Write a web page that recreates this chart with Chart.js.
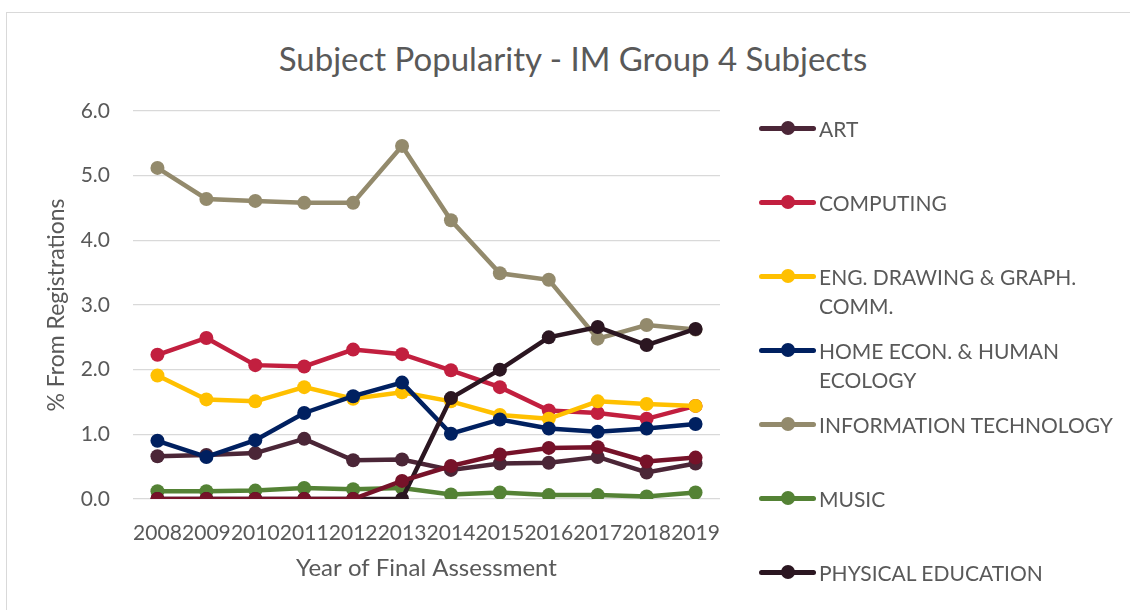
<!DOCTYPE html>
<html>
<head>
<meta charset="utf-8">
<script src="https://cdn.jsdelivr.net/npm/chart.js@4.4.1/dist/chart.umd.min.js"></script>
<style>
    body{
        margin:0;
        width:1130px;
        height:610px;
        overflow:hidden;
        background:#fff;
        font-family:Lato, sans-serif;
    }
    .frame{
        position:absolute;
        left:6px;
        top:12px;
        width:1140px;
        height:620px;
        border:1px solid #d9d9d9;
    }
    .chart-title{
        position:absolute;
        left:0;
        top:38px;
        width:1146px;
        text-align:center;
        font-size:33px;
        line-height:40px;
        color:#595959;
    }
    .chart-box{
        position:absolute;
        left:7px;
        top:12px;
        width:1123px;
        height:598px;
    }
    .legend{
        position:absolute;
        left:759px;
        top:0;
    }
    .legend-item{
        position:absolute;
        left:0;
        display:flex;
        align-items:flex-start;
        width:370px;
    }
    .legend-mark{
        position:relative;
        width:57px;
        height:29px;
        flex:none;
    }
    .legend-mark .bar{
        position:absolute;
        left:0;
        top:12px;
        width:57px;
        height:5px;
        border-radius:3px;
    }
    .legend-mark .dot{
        position:absolute;
        left:22px;
        top:7px;
        width:14px;
        height:14px;
        border-radius:50%;
    }
    .legend-text{
        margin-left:3px;
        width:295px;
        font-size:21px;
        line-height:29px;
        color:#595959;
    }
</style>
</head>
<body>
<div class="frame"></div>
<div class="chart-title">Subject Popularity - IM Group 4 Subjects</div>
<div class="chart-box"><canvas id="popularityChart"></canvas></div>
<div class="legend" id="legend"></div>

<script>
const years = ["2008","2009","2010","2011","2012","2013","2014","2015","2016","2017","2018","2019"];

const art        = [0.66,0.68,0.71,0.93,0.60,0.61,0.45,0.55,0.56,0.65,0.41,0.55];
const computing  = [2.23,2.49,2.07,2.05,2.31,2.24,1.99,1.73,1.37,1.33,1.24,1.44];
const engDrawing = [1.91,1.54,1.51,1.73,1.55,1.65,1.51,1.30,1.24,1.51,1.47,1.44];
const homeEcon   = [0.90,0.65,0.91,1.33,1.59,1.80,1.01,1.23,1.09,1.04,1.09,1.16];
const infoTech   = [5.12,4.64,4.61,4.58,4.58,5.46,4.31,3.49,3.39,2.48,2.69,2.62];
const music      = [0.12,0.12,0.13,0.17,0.15,0.17,0.07,0.10,0.06,0.06,0.04,0.10];
const physicalEd = [0,0,0,0,0,0,1.56,2.00,2.50,2.66,2.38,2.63];
const unlabelled = [0,0,0,0,0,0.28,0.51,0.69,0.79,0.80,0.58,0.64];

const seriesNames  = ["ART","COMPUTING","ENG. DRAWING & GRAPH. COMM.","HOME ECON. & HUMAN ECOLOGY","INFORMATION TECHNOLOGY","MUSIC","PHYSICAL EDUCATION",""];
const seriesValues = [art,computing,engDrawing,homeEcon,infoTech,music,physicalEd,unlabelled];
const seriesColors = ["#4b2637","#c21f3f","#ffc000","#002060","#938a6c","#548235","#2b1621","#761229"];

const yTicks = [0,1,2,3,4,5,6];

document.addEventListener("DOMContentLoaded", initializeChart);

function initializeChart(){
    const ctx = document.getElementById("popularityChart");
    const textColor = "#595959";

    const datasets = seriesValues.map(function(values, i){
        return {
            label:seriesNames[i],
            data:values,
            borderColor:seriesColors[i],
            backgroundColor:seriesColors[i],
            pointBackgroundColor:seriesColors[i],
            pointBorderWidth:0,
            pointRadius:7,
            borderWidth:4.5,
            tension:0,
            order:seriesValues.length - i
        };
    });

    new Chart(ctx,{
        type:"line",
        data:{
            labels:years,
            datasets:datasets
        },
        options:{
            responsive:true,
            maintainAspectRatio:false,
            animation:false,
            layout:{
                padding:{left:0, right:410, top:99, bottom:0}
            },
            plugins:{
                legend:{display:false},
                tooltip:{enabled:false}
            },
            scales:{
                x:{
                    offset:true,
                    grid:{display:false},
                    border:{display:false},
                    ticks:{
                        color:textColor,
                        font:{family:"Lato", size:21},
                        maxRotation:0,
                        autoSkip:false,
                        padding:14
                    },
                    title:{
                        display:true,
                        text:"Year of Final Assessment",
                        color:textColor,
                        font:{family:"Lato", size:24},
                        padding:{top:0, bottom:27}
                    },
                    afterFit:function(scale){
                        scale.height = 111;
                    }
                },
                y:{
                    min:yTicks[0],
                    max:yTicks[yTicks.length - 1],
                    grid:{
                        color:"#d9d9d9",
                        lineWidth:1.3,
                        drawTicks:false
                    },
                    border:{display:false},
                    afterBuildTicks:function(scale){
                        scale.ticks = yTicks.map(function(v){ return {value:v}; });
                    },
                    ticks:{
                        color:textColor,
                        font:{family:"Lato", size:21},
                        padding:23,
                        callback:function(value){ return Number(value).toFixed(1); }
                    },
                    title:{
                        display:true,
                        text:"% From Registrations",
                        color:textColor,
                        font:{family:"Lato", size:23},
                        padding:{top:36, bottom:0}
                    },
                    afterFit:function(scale){
                        scale.width = 126;
                    }
                }
            }
        }
    });

    buildLegend();
}

function buildLegend(){
    const legend = document.getElementById("legend");
    seriesNames.forEach(function(name, i){
        if(!name) return;
        const item = document.createElement("div");
        item.className = "legend-item";
        item.style.top = (128 + i * 74 - 14.5) + "px";
        item.innerHTML =
            '<div class="legend-mark">' +
                '<div class="bar" style="background:' + seriesColors[i] + '"></div>' +
                '<div class="dot" style="background:' + seriesColors[i] + '"></div>' +
            '</div>' +
            '<div class="legend-text"></div>';
        item.querySelector(".legend-text").textContent = name;
        legend.appendChild(item);
    });
}
</script>
</body>
</html>
